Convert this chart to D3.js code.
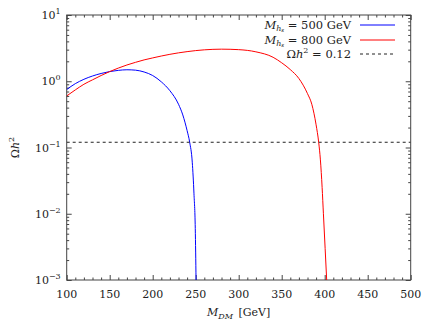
<!DOCTYPE html>
<html>
<head>
<meta charset="utf-8">
<script src="https://cdn.jsdelivr.net/npm/d3@7"></script>
<style>
  body { margin: 0; background: #fff; }
  text { font-family: "DejaVu Serif", serif; }
  .axis path, .axis line { stroke: #444; }
</style>
</head>
<body>
<script>
// --- data ---
var massBlue = [100, 110, 120, 130, 140, 150, 160, 170, 180, 190, 200, 210, 220, 230, 235, 240, 243, 246, 248, 249.5, 250.4];
var omegaBlue = [0.75, 0.92, 1.07, 1.2, 1.31, 1.40, 1.46, 1.49, 1.47, 1.38, 1.22, 0.98, 0.72, 0.45, 0.31, 0.18, 0.12, 0.06, 0.02, 0.006, 0.001];

var massRed = [100, 110, 120, 130, 140, 150, 160, 170, 180, 190, 200, 220, 240, 260, 280, 300, 320, 340, 350, 360, 370, 380, 385, 390, 393, 395, 397, 398.5, 400.5, 402.3];
var omegaRed = [0.6, 0.74, 0.9, 1.05, 1.22, 1.40, 1.58, 1.76, 1.93, 2.1, 2.25, 2.55, 2.8, 2.98, 3.05, 3.0, 2.78, 2.3, 1.9, 1.5, 1.1, 0.65, 0.45, 0.22, 0.12, 0.065, 0.025, 0.01, 0.003, 0.001];

var relicValue = 0.12;
var xTicks = [100, 150, 200, 250, 300, 350, 400, 450, 500];
var yExponents = [1, 0, -1, -2, -3];
var legendMasses = ["500", "800"];

var width = 436, height = 327,
    margins = {top: 15, left: 66.7, right: 25.3, bottom: 47};

var svg = d3.select("body").append("svg")
    .attr("width", width)
    .attr("height", height);

var x = d3.scaleLinear().domain([100, 500]).range([margins.left, width - margins.right]);
var y = d3.scaleLog().domain([1e-3, 1e1]).range([height - margins.bottom, margins.top]);

var x0 = x.range()[0], x1 = x.range()[1], y0 = y.range()[0], y1 = y.range()[1];

svg.append("defs").append("clipPath").attr("id", "body-clip")
    .append("rect")
    .attr("x", x0).attr("y", y1)
    .attr("width", x1 - x0).attr("height", y0 - y1);

// minor ticks
var xMinor = d3.range(100, 501, 10).filter(function(v) { return xTicks.indexOf(v) < 0; });
var yMinor = [];
for (var e = -3; e < 1; e++)
    for (var m = 2; m < 10; m++) yMinor.push(m * Math.pow(10, e));
var yMajor = yExponents.map(function(e) { return Math.pow(10, e); });

function addAxis(axis, tx, ty) {
    svg.append("g").attr("class", "axis")
        .attr("transform", "translate(" + tx + "," + ty + ")")
        .call(axis)
        .call(function(g) { g.selectAll("text").remove(); g.select(".domain").remove(); });
}

addAxis(d3.axisBottom(x).tickValues(xTicks).tickSize(-5), 0, y0);
addAxis(d3.axisBottom(x).tickValues(xMinor).tickSize(-2.5), 0, y0);
addAxis(d3.axisTop(x).tickValues(xTicks).tickSize(-5), 0, y1);
addAxis(d3.axisTop(x).tickValues(xMinor).tickSize(-2.5), 0, y1);
addAxis(d3.axisLeft(y).tickValues(yMajor).tickSize(-5), x0, 0);
addAxis(d3.axisLeft(y).tickValues(yMinor).tickSize(-2.5), x0, 0);
addAxis(d3.axisRight(y).tickValues(yMajor).tickSize(-5), x1, 0);
addAxis(d3.axisRight(y).tickValues(yMinor).tickSize(-2.5), x1, 0);

svg.append("rect")
    .attr("x", x0).attr("y", y1)
    .attr("width", x1 - x0).attr("height", y0 - y1)
    .attr("fill", "none").attr("stroke", "#444").attr("stroke-width", 1);

// tick labels
svg.selectAll("text.xlab").data(xTicks).enter().append("text")
    .attr("class", "xlab")
    .attr("x", function(d) { return x(d); })
    .attr("y", y0 + 18)
    .attr("text-anchor", "middle")
    .attr("font-size", 11)
    .attr("fill", "#222")
    .text(function(d) { return d; });

var ylab = svg.selectAll("text.ylab").data(yExponents).enter().append("text")
    .attr("class", "ylab")
    .attr("x", x0 - 6)
    .attr("y", function(d) { return y(Math.pow(10, d)) + 4; })
    .attr("text-anchor", "end")
    .attr("font-size", 11)
    .attr("fill", "#222");
ylab.append("tspan").text("10");
ylab.append("tspan").attr("dy", -5).attr("font-size", 8)
    .text(function(d) { return d < 0 ? "\u2212" + (-d) : d; });

// axis titles
var xt = svg.append("text")
    .attr("x", (x0 + x1) / 2)
    .attr("y", height - 11)
    .attr("text-anchor", "middle")
    .attr("font-size", 11)
    .attr("fill", "#222");
xt.append("tspan").attr("font-style", "italic").text("M");
xt.append("tspan").attr("font-style", "italic").attr("font-size", 8).attr("dy", 2.5).text("DM");
xt.append("tspan").attr("dy", -2.5).text("\u2002[GeV]");

var yt = svg.append("text")
    .attr("transform", "translate(19," + ((y0 + y1) / 2) + ") rotate(-90)")
    .attr("text-anchor", "middle")
    .attr("font-size", 11)
    .attr("fill", "#222");
yt.append("tspan").text("\u03a9");
yt.append("tspan").attr("font-style", "italic").text("h");
yt.append("tspan").attr("font-size", 8).attr("dy", -5).text("2");

// curves
var body = svg.append("g").attr("clip-path", "url(#body-clip)");

var line = d3.line()
    .x(function(d) { return x(d[0]); })
    .y(function(d) { return y(d[1]); })
    .curve(d3.curveMonotoneX);

var series = [
    {pts: d3.zip(massBlue, omegaBlue), color: "#0000ff"},
    {pts: d3.zip(massRed, omegaRed), color: "#ff0000"}
];

body.selectAll("path.curve").data(series).enter().append("path")
    .attr("class", "curve")
    .attr("fill", "none")
    .attr("stroke", function(d) { return d.color; })
    .attr("stroke-width", 1)
    .attr("d", function(d) { return line(d.pts); });

body.append("line")
    .attr("x1", x0).attr("x2", x1)
    .attr("y1", y(relicValue)).attr("y2", y(relicValue))
    .attr("stroke", "#222")
    .attr("stroke-width", 1)
    .attr("stroke-dasharray", "3,3");

// legend
var legX = 351, legLine = [360, 395], legY = [25, 40, 54];
var legColors = ["#0000ff", "#ff0000"];

legendMasses.forEach(function(m, i) {
    var t = svg.append("text")
        .attr("x", legX).attr("y", legY[i] + 4)
        .attr("text-anchor", "end")
        .attr("font-size", 11.5)
        .attr("fill", "#222");
    t.append("tspan").attr("font-style", "italic").text("M");
    t.append("tspan").attr("font-style", "italic").attr("font-size", 8).attr("dy", 2).text("h");
    t.append("tspan").attr("font-style", "italic").attr("font-size", 5.5).attr("dy", 1).text("s");
    t.append("tspan").attr("dy", -3).text(" = " + m + " GeV");
    svg.append("line")
        .attr("x1", legLine[0]).attr("x2", legLine[1])
        .attr("y1", legY[i]).attr("y2", legY[i])
        .attr("stroke", legColors[i]).attr("stroke-width", 1);
});

var t3 = svg.append("text")
    .attr("x", legX).attr("y", legY[2] + 4)
    .attr("text-anchor", "end")
    .attr("font-size", 11.5)
    .attr("fill", "#222");
t3.append("tspan").text("\u03a9");
t3.append("tspan").attr("font-style", "italic").text("h");
t3.append("tspan").attr("font-size", 8).attr("dy", -5).text("2");
t3.append("tspan").attr("dy", 5).text(" = " + relicValue);
svg.append("line")
    .attr("x1", legLine[0]).attr("x2", legLine[1])
    .attr("y1", legY[2]).attr("y2", legY[2])
    .attr("stroke", "#222").attr("stroke-width", 1)
    .attr("stroke-dasharray", "3,3");
</script>
</body>
</html>
